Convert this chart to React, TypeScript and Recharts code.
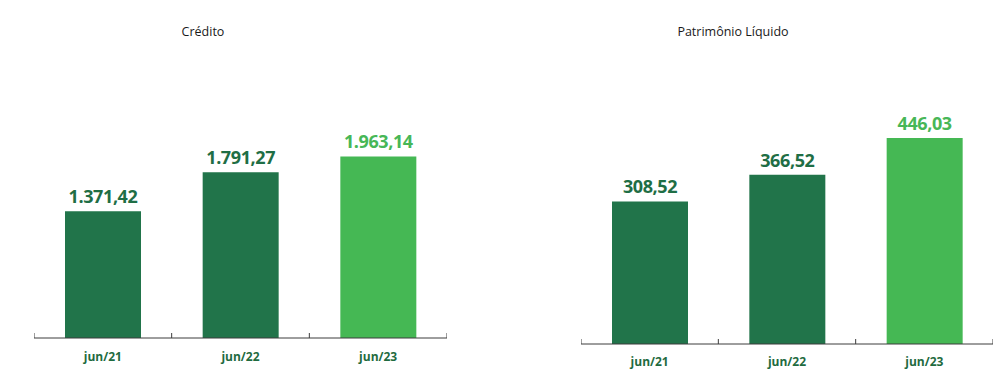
import React from "react";
import { BarChart, Bar, XAxis, YAxis, Cell } from "recharts";

const periods = ["jun/21", "jun/22", "jun/23"];
const creditValues = [1371.42, 1791.27, 1963.14];
const equityValues = [308.52, 366.52, 446.03];

const BAR_COLORS = ["#21744a", "#21744a", "#45b854"];
const LABEL_COLORS = ["#1f6e45", "#1f6e45", "#47b757"];
const AXIS_COLOR = "#3d3d3d";

// pt-BR style: 1.371,42
function fmt(v: number) {
  const [int, dec] = v.toFixed(2).split(".");
  return int.replace(/\B(?=(\d{3})+(?!\d))/g, ".") + "," + dec;
}

function makeTick(bandHalf: number, baseline: number) {
  return function Tick(props: any) {
    const { x, y, payload, index } = props;
    const last = index === periods.length - 1;
    return (
      <g>
        <line x1={x - bandHalf} x2={x - bandHalf} y1={y} y2={y - 5} stroke={AXIS_COLOR} />
        {last && (
          <line x1={x + bandHalf} x2={x + bandHalf} y1={y} y2={y - 5} stroke={AXIS_COLOR} />
        )}
        <text
          x={x}
          y={y + baseline}
          textAnchor="middle"
          fill="#1f6b3f"
          fontSize={12}
          fontWeight={700}
          fontFamily="'Open Sans', sans-serif"
        >
          {payload.value}
        </text>
      </g>
    );
  };
}

function renderValue(props: any) {
  const { x, y, width, value, index } = props;
  return (
    <text
      x={x + width / 2}
      y={y - 8}
      textAnchor="middle"
      fill={LABEL_COLORS[index]}
      fontSize={18}
      fontWeight={700}
      letterSpacing={-0.4}
      fontFamily="'Open Sans', sans-serif"
    >
      {fmt(value)}
    </text>
  );
}

interface PanelProps {
  title: string;
  values: number[];
  left: number;
  width: number;
  top: number;
  axisHeight: number;
  maxY: number;
  titleX: number;
  baseline: number;
}

function Panel({ title, values, left, width, top, axisHeight, maxY, titleX, baseline }: PanelProps) {
  const data = periods.map((p, i) => ({ period: p, value: values[i] }));
  return (
    <>
      <div
        style={{
          position: "absolute",
          left: titleX - 120,
          width: 240,
          top: 24,
          lineHeight: "16px",
          textAlign: "center",
          fontFamily: "'Open Sans', sans-serif",
          fontSize: 12.5,
          color: "#1a1a1a",
        }}
      >
        {title}
      </div>
      <div style={{ position: "absolute", left, top: 0 }}>
        <BarChart width={width} height={384} data={data} margin={{ top, right: 0, left: 0, bottom: 16 }}>
          <XAxis
            dataKey="period"
            height={axisHeight}
            axisLine={{ stroke: AXIS_COLOR }}
            tickLine={false}
            tickSize={0}
            tickMargin={0}
            interval={0}
            tick={makeTick(width / periods.length / 2, baseline)}
          />
          <YAxis hide domain={[0, maxY]} />
          <Bar dataKey="value" barSize={76} isAnimationActive={false} label={renderValue}>
            {data.map((d, i) => (
              <Cell key={d.period} fill={BAR_COLORS[i]} />
            ))}
          </Bar>
        </BarChart>
      </div>
    </>
  );
}

export default function App() {
  return (
    <div style={{ position: "absolute", left: 0, top: 0, width: 1005, height: 384, background: "#fff", overflow: "hidden" }}>
      <Panel
        title="Crédito"
        values={creditValues}
        left={34}
        width={413}
        top={116}
        axisHeight={30}
        maxY={2400}
        titleX={203}
        baseline={23}
      />
      <Panel
        title="Patrimônio Líquido"
        values={equityValues}
        left={581}
        width={412}
        top={113}
        axisHeight={24}
        maxY={500}
        titleX={733}
        baseline={22}
      />
    </div>
  );
}
